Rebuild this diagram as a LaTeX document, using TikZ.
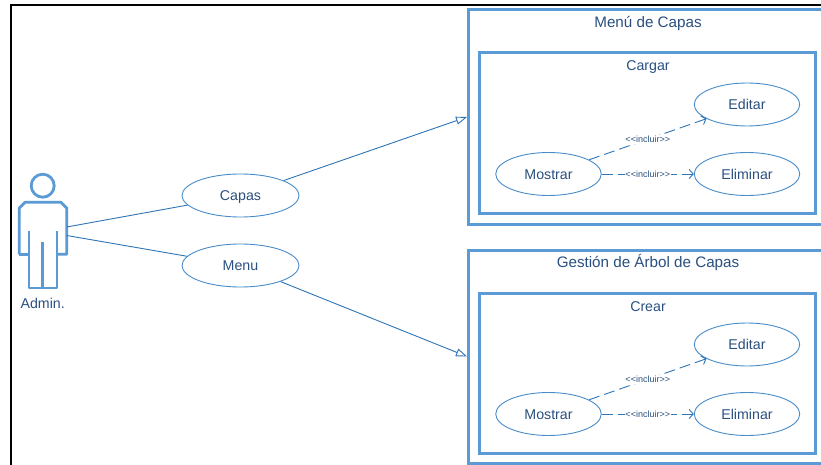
\documentclass[tikz,border=0pt]{standalone}
\usepackage{fontspec}
\setmainfont{Liberation Sans}
\usetikzlibrary{shapes.geometric,arrows.meta}
\definecolor{boxblue}{HTML}{5B9BD5}
\definecolor{lineblue}{HTML}{2E75B6}
\definecolor{textblue}{HTML}{2A5080}
\begin{document}
\begin{tikzpicture}[x=1pt,y=1pt]
\tikzstyle{every node}+=[inner sep=0pt,text=textblue]
\tikzstyle{frame}=[draw=boxblue,line width=3pt,fill=white,rectangle]
\tikzstyle{usecase}=[draw=lineblue!40!boxblue,line width=0.9pt,fill=white,ellipse,minimum width=105.5pt,minimum height=43pt,text height=10.5pt,text depth=0pt,font=\fontsize{14.2}{16}\selectfont]
\tikzstyle{bigcase}=[usecase,minimum width=117pt]
\tikzstyle{title}=[text height=10.5pt,text depth=0pt,font=\fontsize{15.2}{17}\selectfont]
\tikzstyle{subtitle}=[text height=10.5pt,text depth=0pt,font=\fontsize{14.2}{16}\selectfont]
\tikzstyle{assoc}=[draw=lineblue,line width=0.9pt]
\tikzstyle{include}=[assoc,dashed,dash pattern=on 11pt off 5pt,-{Straight Barb[length=4pt,width=9pt]}]
\tikzstyle{inclabel}=[fill=white,inner sep=0.6pt,text height=7.4pt,text depth=0pt,font=\fontsize{9}{10}\selectfont]
\tikzstyle{figure}=[draw=boxblue,line width=2.8pt,line join=round]
\path[use as bounding box,clip] (0,0) rectangle (821,-465);
\fill [white] (0,0) rectangle (821,-465);
\draw [black,line width=2pt] (11,-465) -- (11,-5.5) -- (821,-5.5);
\node [frame,minimum width=370pt,minimum height=214pt] (capasBox) at (653.5,-117) {};
\node [frame,minimum width=336pt,minimum height=160.5pt] (cargarBox) at (647,-133) {};
\node [title] (capasTitle) at (648,-22) {Menú de Capas};
\node [subtitle] (cargarTitle) at (648,-65) {Cargar};
\node [frame,minimum width=370pt,minimum height=213pt] (arbolBox) at (653.5,-356.5) {};
\node [frame,minimum width=336pt,minimum height=160pt] (crearBox) at (647,-373) {};
\node [title] (arbolTitle) at (648,-262) {Gestión de Árbol de Capas};
\node [subtitle] (crearTitle) at (648,-306) {Crear};
\node [usecase] (mostrarA) at (548.5,-174) {Mostrar};
\node [usecase] (editarA) at (747,-104.5) {Editar};
\node [usecase] (eliminarA) at (747,-174) {Eliminar};
\node [usecase] (mostrarB) at (548.5,-414) {Mostrar};
\node [usecase] (editarB) at (747,-344.5) {Editar};
\node [usecase] (eliminarB) at (747,-414) {Eliminar};
\node [bigcase] (capas) at (240.5,-195.5) {Capas};
\node [bigcase] (menu) at (240.5,-265.5) {Menu};
\node [figure,circle,minimum size=23pt] (head) at (42.7,-185.7) {};
\draw [figure] (19.3,-254.3) -- (19.3,-208) -- (25,-202.3) -- (61,-202.3) -- (66.7,-208) -- (66.7,-254.3) -- (57,-254.3);
\draw [figure] (19.3,-254.3) -- (29,-254.3);
\draw [figure] (29,-230.7) -- (29,-288) -- (57,-288) -- (57,-230.7);
\draw [figure] (42.7,-241.7) -- (42.7,-288);
\node [subtitle] (admin) at (42.7,-303) {Admin.};
\coordinate (armUp) at (66.7,-227);
\coordinate (armDown) at (66.7,-235.5);
\draw [assoc] (armUp) -- (capas);
\draw [assoc] (armDown) -- (menu);
\draw [assoc,-{Triangle[open,fill=white,length=11pt,width=8pt]}] (capas) -- (capasBox.west);
\draw [assoc,-{Triangle[open,fill=white,length=11pt,width=8pt]}] (menu) -- (arbolBox.west);
\draw [include] (mostrarA) -- node [inclabel] (incA) {{<}{<}incluir{>}{>}} (editarA);
\draw [include] (mostrarA) -- node [inclabel] (incB) {{<}{<}incluir{>}{>}} (eliminarA);
\draw [include] (mostrarB) -- node [inclabel] (incC) {{<}{<}incluir{>}{>}} (editarB);
\draw [include] (mostrarB) -- node [inclabel] (incD) {{<}{<}incluir{>}{>}} (eliminarB);
\end{tikzpicture}
\end{document}
